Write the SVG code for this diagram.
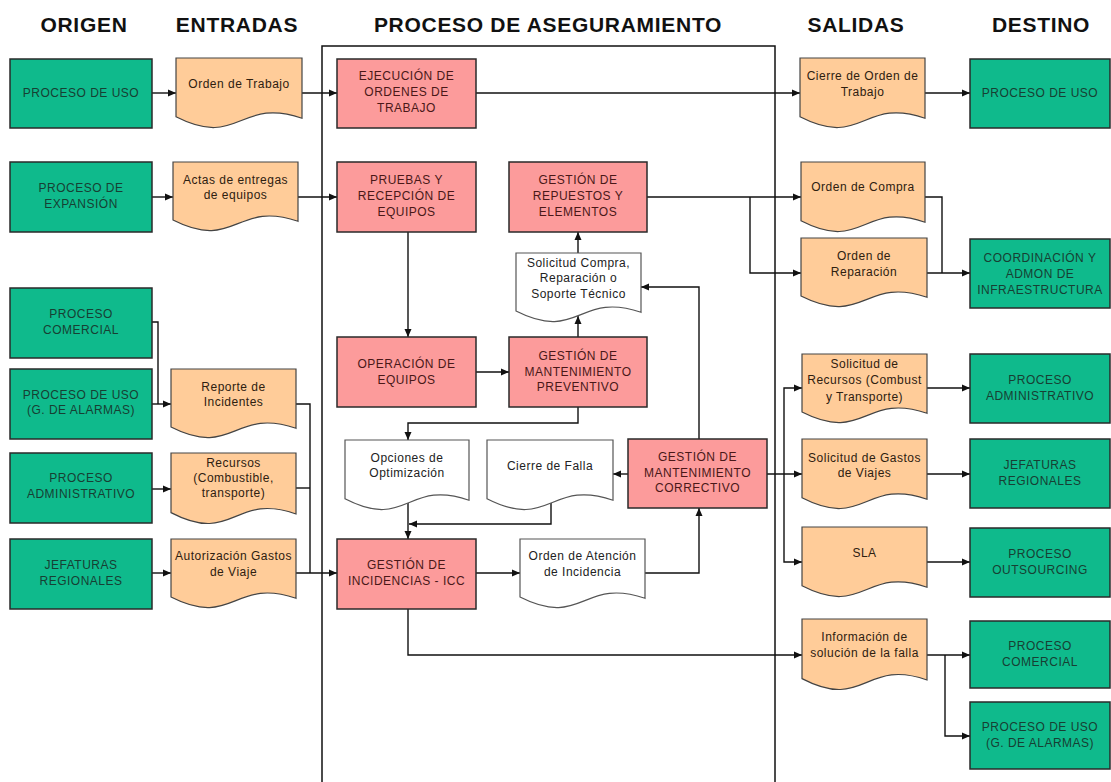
<svg xmlns="http://www.w3.org/2000/svg" width="1111" height="782" viewBox="0 0 1111 782">
<style>
.hdr{font-family:"Liberation Sans",Arial,sans-serif;font-weight:bold;font-size:21px;fill:#111;text-anchor:middle;letter-spacing:0.7px}
.t{font-family:"Liberation Sans",Arial,sans-serif;font-size:12px;text-anchor:middle;letter-spacing:0.5px}
.green rect{fill:#0fba8c;stroke:#2a2a2a;stroke-width:1.5}
.green text{fill:#173f33}
.pink rect{fill:#fc9b9b;stroke:#2a2a2a;stroke-width:1.5}
.pink text{fill:#4a1818}
.doc path{fill:#ffcc99;stroke:#444;stroke-width:1.2}
.doc text{fill:#2e2010}
.wdoc path{fill:#ffffff;stroke:#555;stroke-width:1.2}
.wdoc text{fill:#222}
.conn path{fill:none;stroke:#111;stroke-width:1.4}
.arr{marker-end:url(#ah)}
</style>
<defs>
<marker id="ah" markerWidth="8" markerHeight="8" refX="8" refY="4" orient="auto" markerUnits="userSpaceOnUse">
<path d="M0,0.5 L8,4 L0,7.5 z" fill="#111"/>
</marker>
</defs>
<rect width="1111" height="782" fill="#ffffff"/>
<g id="headers">
<text class="hdr" x="84" y="32">ORIGEN</text>
<text class="hdr" x="237" y="32">ENTRADAS</text>
<text class="hdr" x="548" y="32">PROCESO DE ASEGURAMIENTO</text>
<text class="hdr" x="856" y="32">SALIDAS</text>
<text class="hdr" x="1041" y="32">DESTINO</text>
</g>
<g id="container"><rect x="322" y="46" width="453" height="760" fill="none" stroke="#111" stroke-width="1.5"/></g>

<g id="connectors" class="conn">
<path class="arr" d="M152,93 H176"/>
<path class="arr" d="M302,93 H337"/>
<path class="arr" d="M476,93 H800"/>
<path class="arr" d="M925,93 H970"/>
<path class="arr" d="M152,197 H173"/>
<path class="arr" d="M298,197 H337"/>
<path class="arr" d="M408,232 V337"/>
<path class="arr" d="M647,197 H801"/>
<path class="arr" d="M750,197 V273 H801"/>
<path d="M925,197 H942 V273"/>
<path class="arr" d="M927,273 H970"/>
<path class="arr" d="M578,253 V232"/>
<path class="arr" d="M578,337 V316"/>
<path class="arr" d="M476,372 H509"/>
<path class="arr" d="M578,407 V423 H408 V440"/>
<path class="arr" d="M699,439 V287 H641"/>
<path class="arr" d="M628,474 H613"/>
<path class="arr" d="M767,474 H802"/>
<path class="arr" d="M784,474 V388 H802"/>
<path class="arr" d="M784,474 V562 H802"/>
<path class="arr" d="M927,388 H970"/>
<path class="arr" d="M927,474 H970"/>
<path class="arr" d="M927,562 H970"/>
<path class="arr" d="M408,503 V539"/>
<path class="arr" d="M551,503 V524 H409"/>
<path class="arr" d="M476,573 H520"/>
<path class="arr" d="M645,573 H699 V508"/>
<path class="arr" d="M408,609 V655 H802"/>
<path class="arr" d="M927,655 H970"/>
<path class="arr" d="M945,655 V736 H970"/>
<path d="M152,322 H158 V404"/>
<path class="arr" d="M152,404 H171"/>
<path d="M296,404 H310 V573"/>
<path d="M296,488 H310"/>
<path class="arr" d="M296,573 H337"/>
<path class="arr" d="M152,489 H171"/>
<path class="arr" d="M152,573 H171"/>
</g>

<g id="o-uso" class="green"><rect x="10" y="59" width="142" height="69"/><text class="t" x="81" y="97">PROCESO DE USO</text></g>
<g id="o-expansion" class="green"><rect x="10" y="162" width="142" height="70"/><text class="t" x="81" y="192">PROCESO DE</text><text class="t" x="81" y="208">EXPANSIÓN</text></g>
<g id="o-comercial" class="green"><rect x="10" y="288" width="142" height="70"/><text class="t" x="81" y="318">PROCESO</text><text class="t" x="81" y="334">COMERCIAL</text></g>
<g id="o-alarmas" class="green"><rect x="10" y="369" width="142" height="70"/><text class="t" x="81" y="399">PROCESO DE USO</text><text class="t" x="81" y="414">(G. DE ALARMAS)</text></g>
<g id="o-admin" class="green"><rect x="10" y="453" width="142" height="70"/><text class="t" x="81" y="482">PROCESO</text><text class="t" x="81" y="498">ADMINISTRATIVO</text></g>
<g id="o-jefaturas" class="green"><rect x="10" y="539" width="142" height="70"/><text class="t" x="81" y="569">JEFATURAS</text><text class="t" x="81" y="585">REGIONALES</text></g>

<g id="e-orden" class="doc"><path d="M176,58 H302 V118.2 C239,96.5 239,149 176,116.8 Z"/><text class="t" x="239" y="88">Orden de Trabajo</text></g>
<g id="e-actas" class="doc"><path d="M173,162 H298 V221.3 C235.5,200 235.5,251.7 173,220 Z"/><text class="t" x="235.5" y="184">Actas de entregas</text><text class="t" x="235.5" y="199">de equipos</text></g>
<g id="e-reporte" class="doc"><path d="M171,369 H296 V428.3 C233.5,407 233.5,458.7 171,427 Z"/><text class="t" x="233.5" y="391">Reporte de</text><text class="t" x="233.5" y="406">Incidentes</text></g>
<g id="e-recursos" class="doc"><path d="M171,453 H296 V514 C233.5,492 233.5,545.3 171,512.6 Z"/><text class="t" x="233.5" y="467">Recursos</text><text class="t" x="233.5" y="482">(Combustible,</text><text class="t" x="233.5" y="497">transporte)</text></g>
<g id="e-autorizacion" class="doc"><path d="M171,539 H296 V598.3 C233.5,577 233.5,628.7 171,597 Z"/><text class="t" x="233.5" y="560">Autorización Gastos</text><text class="t" x="233.5" y="576">de Viaje</text></g>

<g id="p-ejecucion" class="pink"><rect x="337" y="59" width="139" height="69"/><text class="t" x="406.5" y="80">EJECUCIÓN DE</text><text class="t" x="406.5" y="96">ORDENES DE</text><text class="t" x="406.5" y="112">TRABAJO</text></g>
<g id="p-pruebas" class="pink"><rect x="337" y="162" width="139" height="70"/><text class="t" x="406.5" y="184">PRUEBAS Y</text><text class="t" x="406.5" y="200">RECEPCIÓN DE</text><text class="t" x="406.5" y="216">EQUIPOS</text></g>
<g id="p-repuestos" class="pink"><rect x="509" y="162" width="138" height="70"/><text class="t" x="578" y="184">GESTIÓN DE</text><text class="t" x="578" y="200">REPUESTOS Y</text><text class="t" x="578" y="216">ELEMENTOS</text></g>
<g id="p-solicitud" class="wdoc"><path d="M516,253 H641 V312.3 C578.5,291 578.5,342.7 516,311 Z"/><text class="t" x="578.5" y="267">Solicitud Compra,</text><text class="t" x="578.5" y="282">Reparación o</text><text class="t" x="578.5" y="298">Soporte Técnico</text></g>
<g id="p-operacion" class="pink"><rect x="337" y="337" width="139" height="70"/><text class="t" x="406.5" y="368">OPERACIÓN DE</text><text class="t" x="406.5" y="384">EQUIPOS</text></g>
<g id="p-preventivo" class="pink"><rect x="509" y="337" width="138" height="70"/><text class="t" x="578" y="360">GESTIÓN DE</text><text class="t" x="578" y="376">MANTENIMIENTO</text><text class="t" x="578" y="391">PREVENTIVO</text></g>
<g id="p-opciones" class="wdoc"><path d="M345,440 H469 V500.2 C407,478.5 407,531 345,498.8 Z"/><text class="t" x="407" y="462">Opciones de</text><text class="t" x="407" y="477">Optimización</text></g>
<g id="p-cierrefalla" class="wdoc"><path d="M487,440 H613 V500.2 C550,478.5 550,531 487,498.8 Z"/><text class="t" x="550" y="470">Cierre de Falla</text></g>
<g id="p-correctivo" class="pink"><rect x="628" y="439" width="139" height="69"/><text class="t" x="697.5" y="461">GESTIÓN DE</text><text class="t" x="697.5" y="477">MANTENIMIENTO</text><text class="t" x="697.5" y="492">CORRECTIVO</text></g>
<g id="p-incidencias" class="pink"><rect x="337" y="539" width="139" height="70"/><text class="t" x="406.5" y="569">GESTIÓN DE</text><text class="t" x="406.5" y="585">INCIDENCIAS - ICC</text></g>
<g id="p-atencion" class="wdoc"><path d="M520,539 H645 V598.3 C582.5,577 582.5,628.7 520,597 Z"/><text class="t" x="582.5" y="560">Orden de Atención</text><text class="t" x="582.5" y="576">de Incidencia</text></g>

<g id="s-cierre" class="doc"><path d="M800,58 H925 V118.2 C862.5,96.5 862.5,149 800,116.8 Z"/><text class="t" x="862.5" y="80">Cierre de Orden de</text><text class="t" x="862.5" y="96">Trabajo</text></g>
<g id="s-compra" class="doc"><path d="M801,162 H925 V222.2 C863,200.5 863,253 801,220.8 Z"/><text class="t" x="863" y="191">Orden de Compra</text></g>
<g id="s-reparacion" class="doc"><path d="M801,238 H927 V297.3 C864,276 864,327.7 801,296 Z"/><text class="t" x="864" y="260">Orden de</text><text class="t" x="864" y="276">Reparación</text></g>
<g id="s-recursos" class="doc"><path d="M802,354 H927 V413.3 C864.5,392 864.5,443.7 802,412 Z"/><text class="t" x="864.5" y="368">Solicitud de</text><text class="t" x="864.5" y="384">Recursos (Combust</text><text class="t" x="864.5" y="401">y Transporte)</text></g>
<g id="s-gastos" class="doc"><path d="M802,439 H927 V499.2 C864.5,477.5 864.5,530 802,497.8 Z"/><text class="t" x="864.5" y="462">Solicitud de Gastos</text><text class="t" x="864.5" y="477">de Viajes</text></g>
<g id="s-sla" class="doc"><path d="M802,527 H927 V587.2 C864.5,565.5 864.5,618 802,585.8 Z"/><text class="t" x="864.5" y="557">SLA</text></g>
<g id="s-informacion" class="doc"><path d="M802,619 H927 V680 C864.5,658 864.5,711.3 802,678.6 Z"/><text class="t" x="864.5" y="641">Información de</text><text class="t" x="864.5" y="657">solución de la falla</text></g>

<g id="d-uso" class="green"><rect x="970" y="59" width="140" height="69"/><text class="t" x="1040" y="97">PROCESO DE USO</text></g>
<g id="d-coordinacion" class="green"><rect x="970" y="239" width="140" height="69"/><text class="t" x="1040" y="262">COORDINACIÓN Y</text><text class="t" x="1040" y="278">ADMON DE</text><text class="t" x="1040" y="294">INFRAESTRUCTURA</text></g>
<g id="d-admin" class="green"><rect x="970" y="354" width="140" height="69"/><text class="t" x="1040" y="384">PROCESO</text><text class="t" x="1040" y="400">ADMINISTRATIVO</text></g>
<g id="d-jefaturas" class="green"><rect x="970" y="439" width="140" height="69"/><text class="t" x="1040" y="469">JEFATURAS</text><text class="t" x="1040" y="485">REGIONALES</text></g>
<g id="d-outsourcing" class="green"><rect x="970" y="528" width="140" height="69"/><text class="t" x="1040" y="558">PROCESO</text><text class="t" x="1040" y="574">OUTSOURCING</text></g>
<g id="d-comercial" class="green"><rect x="970" y="621" width="140" height="67"/><text class="t" x="1040" y="650">PROCESO</text><text class="t" x="1040" y="666">COMERCIAL</text></g>
<g id="d-alarmas" class="green"><rect x="970" y="702" width="140" height="67"/><text class="t" x="1040" y="731">PROCESO DE USO</text><text class="t" x="1040" y="747">(G. DE ALARMAS)</text></g>
</svg>
